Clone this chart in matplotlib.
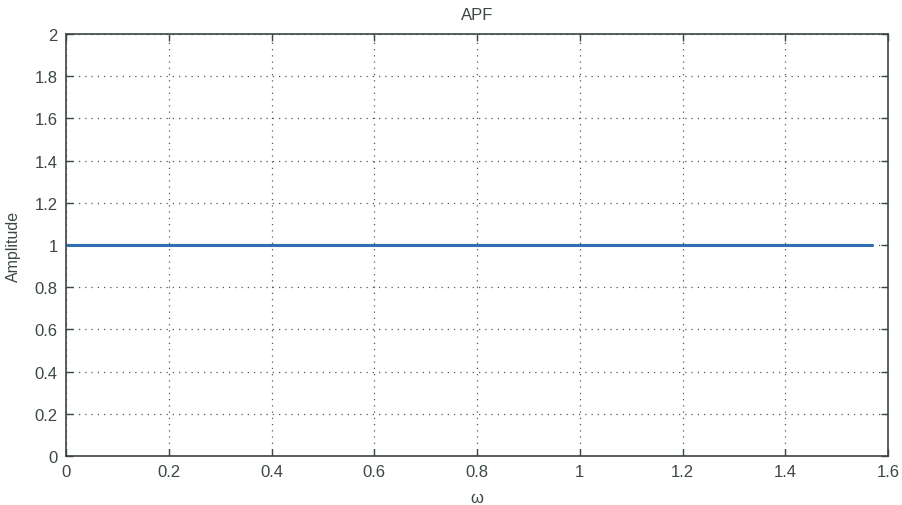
import numpy as np
import matplotlib
matplotlib.use("Agg")
import matplotlib.pyplot as plt

# Frequency response of the all-pass filter over [0, pi/2]
omega = [0.0, 0.3927, 0.7854, 1.1781, 1.5708]
amplitude = [1.0, 1.0, 1.0, 1.0, 1.0]

xticks = [0, 0.2, 0.4, 0.6, 0.8, 1.0, 1.2, 1.4, 1.6]
xticklabels = ["0", "0.2", "0.4", "0.6", "0.8", "1", "1.2", "1.4", "1.6"]
yticks = [0, 0.2, 0.4, 0.6, 0.8, 1.0, 1.2, 1.4, 1.6, 1.8, 2.0]
yticklabels = ["0", "0.2", "0.4", "0.6", "0.8", "1", "1.2", "1.4", "1.6", "1.8", "2"]

plt.rcParams["font.family"] = ["Liberation Sans", "DejaVu Sans"]
axis_color = "#3c4646"

fig = plt.figure(figsize=(9.02, 5.06), dpi=100)
ax = fig.add_axes([0.0732, 0.0968, 0.9113, 0.834])

ax.plot(omega, amplitude, color="#2f6db5", linewidth=2.2, solid_capstyle="butt")

ax.set_xlim(0, 1.6)
ax.set_ylim(0, 2)
ax.set_xticks(xticks)
ax.set_xticklabels(xticklabels)
ax.set_yticks(yticks)
ax.set_yticklabels(yticklabels)

ax.grid(True, linestyle=(0, (1, 4)), color="#4a5862", linewidth=0.9)
ax.tick_params(direction="in", top=True, right=True, length=5, width=1,
               color=axis_color, labelcolor=axis_color, labelsize=12, pad=6)
for s in ax.spines.values():
    s.set_color(axis_color)
    s.set_linewidth(1.2)

ax.set_title("APF", fontsize=12, color=axis_color, pad=11)
ax.set_xlabel("ω", fontsize=12, color=axis_color, labelpad=8)
ax.set_ylabel("Amplitude", fontsize=11.5, color=axis_color, labelpad=10)

fig.savefig("out.png", dpi=100, facecolor="white")
